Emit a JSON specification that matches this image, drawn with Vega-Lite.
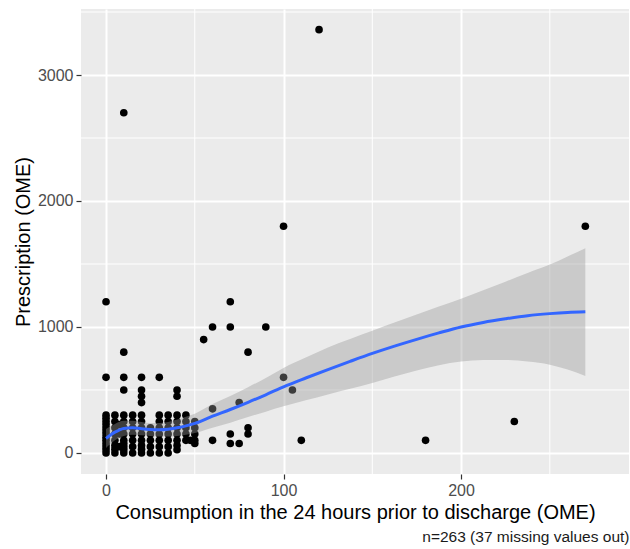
{
  "$schema": "https://vega.github.io/schema/vega-lite/v6.json",
  "width": 548,
  "height": 465,
  "autosize": {"type": "none"},
  "padding": {"left": 81, "top": 9, "right": 1, "bottom": 75},
  "background": "white",
  "config": {
    "view": {"fill": "#EBEBEB", "stroke": null},
    "font": "Liberation Sans",
    "axis": {
      "domain": false,
      "ticks": true,
      "tickColor": "#333333",
      "tickSize": 5,
      "tickWidth": 1.2,
      "labelColor": "#4D4D4D",
      "labelFontSize": 16,
      "labelPadding": 3,
      "titleFontSize": 20,
      "titleFontWeight": "normal",
      "titleColor": "#000000",
      "gridColor": "#FFFFFF",
      "gridWidth": 2
    }
  },
  "title": {
    "text": "n=263 (37 missing values out)",
    "orient": "bottom",
    "anchor": "end",
    "fontSize": 15.5,
    "fontWeight": "normal",
    "color": "#1A1A1A",
    "offset": 8
  },
  "datasets": {
    "minorx": [{"v": 50}, {"v": 150}, {"v": 250}],
    "minory": [{"v": 500}, {"v": 1500}, {"v": 2500}, {"v": 3500}],
    "pts": [
      {"x": 120, "y": 3360}, {"x": 10, "y": 2700}, {"x": 100, "y": 1800}, {"x": 270, "y": 1800},
      {"x": 0, "y": 1200}, {"x": 70, "y": 1200}, {"x": 60, "y": 1000}, {"x": 70, "y": 1000},
      {"x": 90, "y": 1000}, {"x": 55, "y": 900}, {"x": 80, "y": 800}, {"x": 10, "y": 800},
      {"x": 0, "y": 600}, {"x": 10, "y": 600}, {"x": 20, "y": 600}, {"x": 30, "y": 600},
      {"x": 100, "y": 600}, {"x": 105, "y": 500}, {"x": 10, "y": 500}, {"x": 20, "y": 500},
      {"x": 40, "y": 500}, {"x": 20, "y": 450}, {"x": 40, "y": 450}, {"x": 20, "y": 400},
      {"x": 75, "y": 400}, {"x": 60, "y": 350}, {"x": 180, "y": 100}, {"x": 230, "y": 250},
      {"x": 110, "y": 100}, {"x": 80, "y": 200}, {"x": 80, "y": 150}, {"x": 70, "y": 150},
      {"x": 70, "y": 75}, {"x": 75, "y": 75}, {"x": 60, "y": 100}, {"x": 50, "y": 150},
      {"x": 50, "y": 100}, {"x": 50, "y": 200}, {"x": 50, "y": 250}, {"x": 47.5, "y": 100},
      {"x": 50, "y": 75},
      {"x": 0, "y": 0}, {"x": 0, "y": 25}, {"x": 0, "y": 50}, {"x": 0, "y": 75}, {"x": 0, "y": 100},
      {"x": 0, "y": 125}, {"x": 0, "y": 150}, {"x": 0, "y": 175}, {"x": 0, "y": 200}, {"x": 0, "y": 225},
      {"x": 0, "y": 250}, {"x": 0, "y": 275}, {"x": 0, "y": 300},
      {"x": 5, "y": 0}, {"x": 5, "y": 30}, {"x": 5, "y": 60}, {"x": 5, "y": 100}, {"x": 5, "y": 150},
      {"x": 5, "y": 200}, {"x": 5, "y": 250}, {"x": 5, "y": 300},
      {"x": 7.5, "y": 50}, {"x": 7.5, "y": 150}, {"x": 7.5, "y": 225},
      {"x": 10, "y": 0}, {"x": 10, "y": 25}, {"x": 10, "y": 50}, {"x": 10, "y": 75}, {"x": 10, "y": 100},
      {"x": 10, "y": 150}, {"x": 10, "y": 200}, {"x": 10, "y": 250}, {"x": 10, "y": 300},
      {"x": 15, "y": 0}, {"x": 15, "y": 50}, {"x": 15, "y": 100}, {"x": 15, "y": 150}, {"x": 15, "y": 200},
      {"x": 15, "y": 250}, {"x": 15, "y": 300},
      {"x": 20, "y": 0}, {"x": 20, "y": 30}, {"x": 20, "y": 60}, {"x": 20, "y": 100}, {"x": 20, "y": 150},
      {"x": 20, "y": 200}, {"x": 20, "y": 250}, {"x": 20, "y": 300},
      {"x": 25, "y": 0}, {"x": 25, "y": 50}, {"x": 25, "y": 100}, {"x": 25, "y": 150}, {"x": 25, "y": 200},
      {"x": 30, "y": 0}, {"x": 30, "y": 50}, {"x": 30, "y": 100}, {"x": 30, "y": 150}, {"x": 30, "y": 200},
      {"x": 30, "y": 250}, {"x": 30, "y": 300},
      {"x": 35, "y": 0}, {"x": 35, "y": 50}, {"x": 35, "y": 100}, {"x": 35, "y": 150}, {"x": 35, "y": 200},
      {"x": 35, "y": 250}, {"x": 35, "y": 300},
      {"x": 40, "y": 25}, {"x": 40, "y": 60}, {"x": 40, "y": 100}, {"x": 40, "y": 150}, {"x": 40, "y": 200},
      {"x": 40, "y": 250}, {"x": 40, "y": 300},
      {"x": 45, "y": 100}, {"x": 45, "y": 150}, {"x": 45, "y": 200}, {"x": 45, "y": 250}, {"x": 45, "y": 300}
    ],
    "smooth": [
      {"x": 0, "fit": 115, "lo": 40, "hi": 190},
      {"x": 5, "fit": 165, "lo": 100, "hi": 230},
      {"x": 10, "fit": 195, "lo": 135, "hi": 255},
      {"x": 15, "fit": 200, "lo": 145, "hi": 255},
      {"x": 20, "fit": 192, "lo": 140, "hi": 245},
      {"x": 25, "fit": 186, "lo": 135, "hi": 237},
      {"x": 30, "fit": 184, "lo": 130, "hi": 238},
      {"x": 35, "fit": 188, "lo": 130, "hi": 246},
      {"x": 40, "fit": 200, "lo": 135, "hi": 265},
      {"x": 45, "fit": 215, "lo": 145, "hi": 288},
      {"x": 50, "fit": 235, "lo": 158, "hi": 312},
      {"x": 60, "fit": 292, "lo": 200, "hi": 388},
      {"x": 70, "fit": 345, "lo": 240, "hi": 452},
      {"x": 80, "fit": 402, "lo": 285, "hi": 522},
      {"x": 90, "fit": 462, "lo": 328, "hi": 596},
      {"x": 100, "fit": 525, "lo": 370, "hi": 675},
      {"x": 112.5, "fit": 595, "lo": 418, "hi": 757},
      {"x": 125, "fit": 662, "lo": 465, "hi": 838},
      {"x": 137.5, "fit": 727, "lo": 510, "hi": 905},
      {"x": 150, "fit": 790, "lo": 555, "hi": 970},
      {"x": 162.5, "fit": 848, "lo": 607, "hi": 1035},
      {"x": 175, "fit": 902, "lo": 655, "hi": 1100},
      {"x": 187.5, "fit": 953, "lo": 697, "hi": 1162},
      {"x": 200, "fit": 1000, "lo": 725, "hi": 1225},
      {"x": 212.5, "fit": 1036, "lo": 737, "hi": 1292},
      {"x": 225, "fit": 1065, "lo": 738, "hi": 1360},
      {"x": 237.5, "fit": 1090, "lo": 725, "hi": 1428},
      {"x": 250, "fit": 1106, "lo": 700, "hi": 1495},
      {"x": 260, "fit": 1115, "lo": 662, "hi": 1560},
      {"x": 270, "fit": 1120, "lo": 611, "hi": 1625}
    ]
  },
  "encoding": {
    "x": {
      "type": "quantitative",
      "scale": {"domain": [-14.1, 294.6], "nice": false, "zero": false},
      "axis": {"values": [0, 100, 200], "format": "d", "title": "Consumption in the 24 hours prior to discharge (OME)", "titlePadding": 4}
    },
    "y": {
      "type": "quantitative",
      "scale": {"domain": [-167, 3524], "nice": false, "zero": false},
      "axis": {"values": [0, 1000, 2000, 3000], "format": "d", "title": "Prescription (OME)", "titlePadding": 4}
    }
  },
  "layer": [
    {
      "data": {"name": "minorx"},
      "mark": {"type": "rule", "color": "#FFFFFF", "strokeWidth": 1},
      "encoding": {
        "x": {"field": "v", "type": "quantitative"},
        "y": null
      }
    },
    {
      "data": {"name": "minory"},
      "mark": {"type": "rule", "color": "#FFFFFF", "strokeWidth": 1},
      "encoding": {
        "y": {"field": "v", "type": "quantitative"},
        "x": null
      }
    },
    {
      "data": {"name": "pts"},
      "mark": {"type": "circle", "color": "#000000", "size": 58, "opacity": 1},
      "encoding": {
        "x": {"field": "x", "type": "quantitative"},
        "y": {"field": "y", "type": "quantitative"}
      }
    },
    {
      "data": {"name": "smooth"},
      "mark": {"type": "area", "color": "#999999", "opacity": 0.4, "interpolate": "monotone"},
      "encoding": {
        "x": {"field": "x", "type": "quantitative"},
        "y": {"field": "lo", "type": "quantitative"},
        "y2": {"field": "hi"}
      }
    },
    {
      "data": {"name": "smooth"},
      "mark": {"type": "line", "color": "#3366FF", "strokeWidth": 3, "interpolate": "monotone"},
      "encoding": {
        "x": {"field": "x", "type": "quantitative"},
        "y": {"field": "fit", "type": "quantitative"}
      }
    }
  ]
}
